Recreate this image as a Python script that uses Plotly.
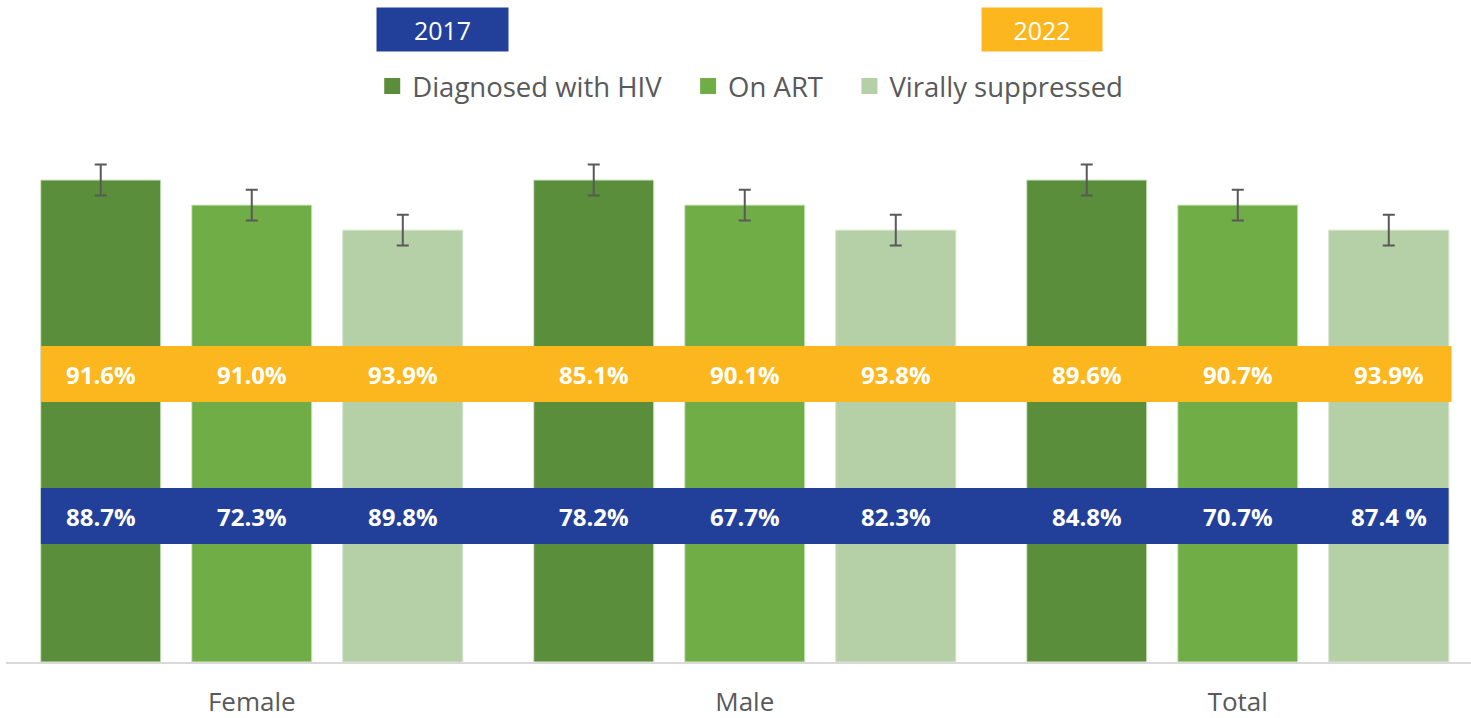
import plotly.graph_objects as go

# ---------------- data ----------------
categories = ["Female", "Male", "Total"]
series_names = ["Diagnosed with HIV", "On ART", "Virally suppressed"]
series_colors = ["#5B8E3A", "#70AD47", "#B5CFA7"]

# decorative bar heights (same for each group) and error bar half-widths
bar_heights = {
    "Diagnosed with HIV": [100, 100, 100],
    "On ART": [94.8, 94.8, 94.8],
    "Virally suppressed": [89.6, 89.6, 89.6],
}
error_sizes = [3.2, 3.2, 3.2]

years = ["2017", "2022"]
labels_2017 = {
    "Diagnosed with HIV": ["88.7%", "78.2%", "84.8%"],
    "On ART": ["72.3%", "67.7%", "70.7%"],
    "Virally suppressed": ["89.8%", "82.3%", "87.4 %"],
}
labels_2022 = {
    "Diagnosed with HIV": ["91.6%", "85.1%", "89.6%"],
    "On ART": ["91.0%", "90.1%", "90.7%"],
    "Virally suppressed": ["93.9%", "93.8%", "93.9%"],
}

BLUE = "#22409A"
ORANGE = "#FDB71E"
GREY = "#595959"
FONT = "Open Sans"
PAD = "\u00a0\u00a0\u00a0"  # spacing after legend entries

fig = go.Figure()
for name, color in zip(series_names, series_colors):
    fig.add_trace(go.Bar(
        name=name,
        x=categories,
        y=bar_heights[name],
        marker=dict(color=color, line=dict(color="#D3E6C7", width=1)),
        error_y=dict(type="data", array=error_sizes, color=GREY, thickness=2, width=6),
        hoverinfo="skip",
        showlegend=False,
    ))
# legend entries with larger square swatches
for i, (name, color) in enumerate(zip(series_names, series_colors)):
    fig.add_trace(go.Scatter(
        name=name + (PAD if i < len(series_names) - 1 else ""),
        x=[None], y=[None], mode="markers",
        marker=dict(symbol="square", size=17, color=color),
        hoverinfo="skip", showlegend=True,
    ))

# band geometry (data units) and label positions
n_series = len(series_names)
slot = 0.306
bar_half = 0.1217
offsets = [(i - (n_series - 1) / 2) * slot for i in range(n_series)]
x_left = offsets[0] - bar_half
x_right = (len(categories) - 1) + offsets[-1] + bar_half

bands = [
    (labels_2022, ORANGE, 53.94, 65.56, x_right + 0.006),
    (labels_2017, BLUE, 24.48, 36.10, x_right),
]
shapes = []
annotations = []
for labels, color, y0, y1, xr in bands:
    shapes.append(dict(type="rect", xref="x", yref="y", x0=x_left, x1=xr, y0=y0, y1=y1,
                       fillcolor=color, line=dict(width=0), layer="above"))
    for gi, cat in enumerate(categories):
        for si, name in enumerate(series_names):
            annotations.append(dict(
                x=gi + offsets[si], y=(y0 + y1) / 2, xref="x", yref="y",
                text="<b>%s</b>" % labels[name][gi], showarrow=False,
                font=dict(family=FONT, size=24, color="white"),
                xanchor="center", yanchor="middle",
            ))

# year boxes
for year, color, xc, w in [(years[0], BLUE, 0.298, 131), (years[1], ORANGE, 0.707, 120)]:
    annotations.append(dict(
        x=xc, y=1.212, xref="paper", yref="paper", text=year, showarrow=False,
        font=dict(family=FONT, size=25, color="white"),
        bgcolor=color, width=w, height=43, borderpad=0,
        xanchor="center", yanchor="middle", align="center", valign="middle",
    ))

fig.update_layout(
    width=1471, height=718,
    margin=dict(l=6, r=0, t=140, b=56, autoexpand=False),
    paper_bgcolor="white", plot_bgcolor="white",
    barmode="group", bargap=0.081, bargroupgap=0.205,
    font=dict(family=FONT, color=GREY),
    showlegend=True,
    legend=dict(orientation="h", x=0.508, xanchor="center", y=1.1034, yanchor="middle",
                itemsizing="trace",
                font=dict(family=FONT, size=27.5, color=GREY), bgcolor="rgba(0,0,0,0)"),
    shapes=shapes,
    annotations=annotations,
    xaxis=dict(range=[-0.4985, 2.4731], showline=True, linecolor="#D9D9D9", linewidth=2,
               showgrid=False, ticks="", tickfont=dict(family=FONT, size=26, color=GREY),
               ticklabelstandoff=16, automargin=False, fixedrange=True),
    yaxis=dict(range=[0, 108.3], visible=False, showgrid=False, zeroline=False,
               automargin=False, fixedrange=True),
)

fig.write_html("out.html", config={"displayModeBar": False},
               post_script="document.body.style.margin='0';document.body.style.overflow='hidden';")
